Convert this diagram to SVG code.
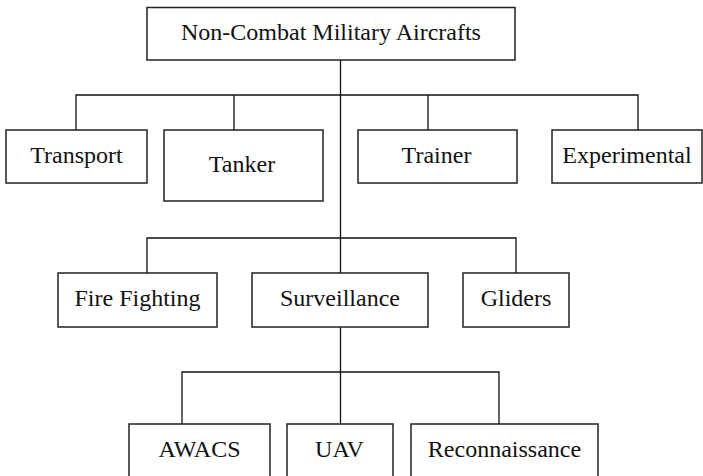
<svg xmlns="http://www.w3.org/2000/svg" width="703" height="476" viewBox="0 0 703 476">
<style>
.box{fill:#fff;stroke:#222;stroke-width:1.5}
.lbl{font-family:"Liberation Serif","Times New Roman",serif;font-size:24px;fill:#111;text-anchor:middle}
.conn{fill:none;stroke:#111;stroke-width:1.3}
</style>
<rect width="703" height="476" fill="#fff"/>
<g id="connectors" class="conn">
<path d="M340.5 60V273"/>
<path d="M76 130V95H638V130"/>
<path d="M234 95V130"/>
<path d="M428 95V130"/>
<path d="M147 273V238H516V273"/>
<path d="M340.5 327V424"/>
<path d="M182 424V372H499V424"/>
</g>
<g id="root"><rect class="box" x="147" y="7.5" width="368" height="52.5"/><text class="lbl" x="331" y="40">Non-Combat Military Aircrafts</text></g>
<g id="transport"><rect class="box" x="6" y="130" width="141" height="53"/><text class="lbl" x="76.5" y="163">Transport</text></g>
<g id="tanker"><rect class="box" x="164" y="130" width="159" height="71"/><text class="lbl" x="242" y="172">Tanker</text></g>
<g id="trainer"><rect class="box" x="358" y="130" width="159" height="53"/><text class="lbl" x="436.5" y="163">Trainer</text></g>
<g id="experimental"><rect class="box" x="552" y="130" width="150" height="53"/><text class="lbl" x="627" y="163">Experimental</text></g>
<g id="firefighting"><rect class="box" x="58" y="273" width="159" height="54"/><text class="lbl" x="137.5" y="306">Fire Fighting</text></g>
<g id="surveillance"><rect class="box" x="252" y="273" width="176" height="54"/><text class="lbl" x="340" y="306">Surveillance</text></g>
<g id="gliders"><rect class="box" x="463" y="273" width="106" height="54"/><text class="lbl" x="516" y="306">Gliders</text></g>
<g id="awacs"><rect class="box" x="129" y="424" width="141" height="60"/><text class="lbl" x="199.5" y="457">AWACS</text></g>
<g id="uav"><rect class="box" x="287" y="424" width="106" height="60"/><text class="lbl" x="339.5" y="457">UAV</text></g>
<g id="reconnaissance"><rect class="box" x="411" y="424" width="187" height="60"/><text class="lbl" x="504.5" y="457">Reconnaissance</text></g>
</svg>
